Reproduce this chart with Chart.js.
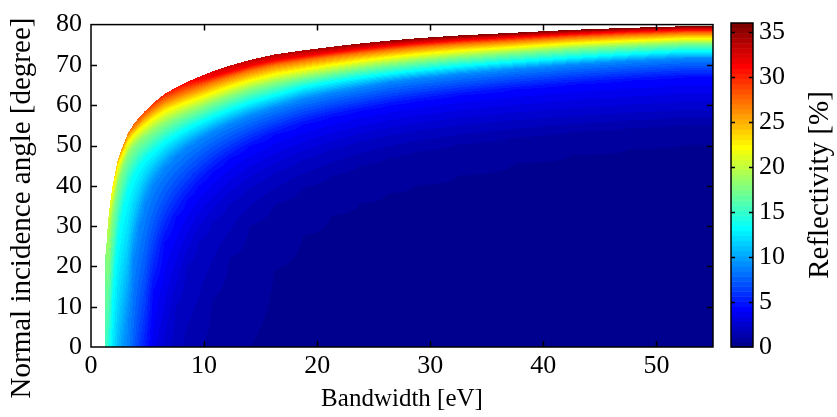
<!DOCTYPE html>
<html>
<head>
<meta charset="utf-8">
<script src="https://cdn.jsdelivr.net/npm/chart.js@4.4.1/dist/chart.umd.min.js"></script>
<style>
  html, body { margin: 0; padding: 0; background: #fff; }
  #wrap { position: relative; width: 837px; height: 417px; }
  #wrap canvas { position: absolute; left: 0; top: 0; }
</style>
</head>
<body>
<div id="wrap">
  <canvas id="mapChart" width="837" height="417"></canvas>
  <canvas id="barChart" width="837" height="417"></canvas>
</div>
<script>
// bandwidth strip edges [eV]; strip i runs from bandwidth[i] to bandwidth[i + 1]
const bandwidth = [1.2, 1.4, 1.6, 1.8, 2.0, 2.25, 2.5, 2.75, 3.0, 3.5, 4.0, 4.5, 5, 6, 7, 8, 9, 10, 11.5, 13, 15, 17.5, 20, 22.5, 25, 27.5, 30, 35, 40, 45, 50, 55];

// angle where the white (no solution) region starts, per strip [degree]
const edgeAngle = [23, 31, 36, 40, 43, 46.5, 48.5, 50.3, 53.0, 55.2, 57.0, 58.5, 60.5, 62.8, 64.4, 65.8, 67.0, 68.4, 69.8, 71.2, 72.6, 73.6, 74.5, 75.3, 76.0, 76.6, 77.3, 78.0, 78.7, 79.2, 79.6];

// reflectivity at that edge and at 0 degree, per strip [%]
const edgeRefl = [17.5, 20, 21.5, 23, 24, 25, 25.8, 26.4, 27, 27.8, 28.5, 29, 29.6, 30.3, 30.9, 31.5, 32.0, 32.5, 33.0, 33.4, 33.8, 34.2, 34.6, 34.9, 35.2, 35.4, 35.6, 35.8, 35.9, 36, 36];
const baseRefl = [15.5, 14.5, 13.5, 12.6, 11.7, 10.8, 10.1, 9.4, 8.9, 7.6, 6.3, 5.2, 3.7, 2.6, 1.95, 1.5, 1.2, 0.95, 0.73, 0.56, 0.42, 0.33, 0.26, 0.21, 0.17, 0.14, 0.11, 0.085, 0.07, 0.055, 0.045];

// reflectivity levels [%] and the angle where each strip reaches them (null = not reached)
const levels = [0.56, 1.125, 2.25, 4.5, 9, 13.5, 18, 22.5, 27, 31.5];
const _ = null;
const angleAt0_56 = [_, _, _, _, _, _, _, _, _, _, _, _, _, _, _, _, _, _, _, _, 19, 27.5, 32.5, 35.5, 38, 40, 42.5, 45.5, 47.5, 49, 50];
const angleAt1_1 = [_, _, _, _, _, _, _, _, _, _, _, _, _, _, _, _, _, 12, 22, 30, 35.5, 39.5, 42.5, 45, 47, 48.5, 50.3, 52, 53.3, 54.3, 55.0];
const angleAt2_25 = [_, _, _, _, _, _, _, _, _, _, _, _, _, _, 10, 20, 26, 31, 35.5, 39.5, 43.2, 46.5, 49, 51, 52.5, 53.7, 55, 56.3, 57.3, 58.1, 58.8];
const angleAt4_5 = [_, _, _, _, _, _, _, _, _, _, _, _, 14, 26, 32, 36.5, 40, 43.5, 46.8, 49.8, 52.7, 55.2, 57.1, 58.6, 59.9, 61.0, 62.4, 63.9, 65.1, 66.1, 66.9];
const angleAt9 = [_, _, _, _, _, _, _, _, 6, 22, 30, 35.5, 40.5, 44.5, 47.3, 49.5, 51.3, 53.3, 55.3, 57.3, 59.4, 61.5, 63.0, 64.3, 65.6, 66.5, 67.6, 68.9, 70.0, 70.9, 71.6];
const angleAt13_5 = [_, _, _, 12, 20, 27, 31, 35, 39, 42.5, 45, 46.7, 48.7, 51, 52.8, 54.4, 55.7, 57.3, 59.0, 60.8, 62.6, 64.6, 65.9, 67.0, 67.9, 68.7, 69.8, 70.9, 71.9, 72.8, 73.5];
const angleAt18 = [_, 20, 27, 32.5, 36.5, 40.5, 43, 45, 47.6, 49.6, 51.0, 52.1, 53.6, 55.4, 56.8, 58.0, 59.1, 60.6, 62.2, 63.9, 65.5, 66.9, 68.1, 69.2, 70.1, 70.9, 71.9, 73.0, 74.0, 74.7, 75.3];
const angleAt22_5 = [_, _, _, 39.5, 42.0, 45.0, 46.7, 48.3, 50.8, 52.6, 54.0, 55.2, 56.8, 58.6, 59.8, 60.9, 61.9, 63.2, 64.7, 66.2, 67.8, 69.0, 70.1, 71.1, 71.95, 72.7, 73.6, 74.5, 75.4, 76.05, 76.6];
const angleAt27 = [_, _, _, _, _, _, _, _, _, 54.7, 56.1, 57.4, 59.1, 61.0, 62.2, 63.3, 64.3, 65.6, 66.95, 68.4, 69.9, 71.0, 72.0, 72.85, 73.6, 74.3, 75.1, 75.9, 76.75, 77.35, 77.85];
const angleAt31_5 = [_, _, _, _, _, _, _, _, _, _, _, _, _, _, _, _, 66.4, 67.2, 68.4, 69.8, 71.2, 72.2, 73.15, 74.0, 74.75, 75.4, 76.15, 76.95, 77.7, 78.3, 78.75];
const levelAngles = [angleAt0_56, angleAt1_1, angleAt2_25, angleAt4_5, angleAt9, angleAt13_5, angleAt18, angleAt22_5, angleAt27, angleAt31_5];

const xTicks = [0, 10, 20, 30, 40, 50];
const yTicks = [0, 10, 20, 30, 40, 50, 60, 70, 80];
const cbTicks = [0, 5, 10, 15, 20, 25, 30, 35];
const reflMax = 36;
const nColors = 64;

const FONT = 'Liberation Serif';

// matlab jet(64): colour k (0 based) sits at t = (k + 1) / 64
const jetRGB = (k) => {
  const t = (k + 1) / nColors;
  const c = (d) => Math.round(255 * Math.min(Math.max(1.5 - Math.abs(4 * t - d), 0), 1));
  return [c(3), c(2), c(1)];
};
const colorIndex = (r) => Math.min(nColors - 1, Math.max(0, Math.floor(r / reflMax * nColors)));

// reflectivity profile of one strip, sorted (angle, value) pairs
const profiles = edgeAngle.map((e, i) => {
  const p = [[0, baseRefl[i]]];
  levels.forEach((lv, k) => {
    if (levelAngles[k][i] !== null) p.push([levelAngles[k][i], lv]);
  });
  p.push([e, edgeRefl[i]]);
  return p;
});
const reflAt = (p, ang) => {
  if (ang <= p[0][0]) return p[0][1];
  for (let j = 1; j < p.length; j++) {
    if (ang <= p[j][0]) {
      const f = (ang - p[j - 1][0]) / (p[j][0] - p[j - 1][0]);
      return p[j - 1][1] + f * (p[j][1] - p[j - 1][1]);
    }
  }
  return p[p.length - 1][1];
};
const centers = edgeAngle.map((e, i) => (bandwidth[i] + bandwidth[i + 1]) / 2);

// inward ticks + box, matlab style
const drawFrame = (chart, xScale, xs, yScale, ys, len) => {
  const { ctx, chartArea: a } = chart;
  ctx.save();
  ctx.strokeStyle = '#000';
  ctx.lineWidth = 1.5;
  ctx.beginPath();
  if (xScale) {
    xs.forEach(v => {
      const px = Math.round(xScale.getPixelForValue(v)) + 0.5;
      if (px <= a.left + 1 || px >= a.right - 1) return;
      ctx.moveTo(px, a.bottom); ctx.lineTo(px, a.bottom - len);
      ctx.moveTo(px, a.top); ctx.lineTo(px, a.top + len);
    });
  }
  ys.forEach(v => {
    const py = Math.round(yScale.getPixelForValue(v)) + 0.5;
    if (py <= a.top + 1 || py >= a.bottom - 1) return;
    ctx.moveTo(a.left, py); ctx.lineTo(a.left + len, py);
    ctx.moveTo(a.right, py); ctx.lineTo(a.right - len, py);
  });
  ctx.stroke();
  ctx.strokeRect(a.left, a.top, a.right - a.left, a.bottom - a.top);
  ctx.restore();
};

const heatmapPlugin = {
  id: 'heatmap',
  beforeDatasetsDraw(chart) {
    const { ctx, chartArea: a, scales: { x, y } } = chart;
    const left = Math.round(a.left), top = Math.round(a.top);
    const w = Math.round(a.right) - left, h = Math.round(a.bottom) - top;
    const off = document.createElement('canvas');
    off.width = w; off.height = h;
    const octx = off.getContext('2d');
    const img = octx.createImageData(w, h);
    const last = centers.length - 1;
    for (let px = 0; px < w; px++) {
      const b = x.getValueForPixel(left + px + 0.5);
      if (b < bandwidth[0]) continue;
      let i = 0, f = 0;
      if (b >= centers[last]) { i = last; f = 0; }
      else if (b > centers[0]) {
        while (centers[i + 1] <= b) i++;
        f = (b - centers[i]) / (centers[i + 1] - centers[i]);
      }
      const j = Math.min(i + 1, last);
      const edge = edgeAngle[i] + f * (edgeAngle[j] - edgeAngle[i]);
      for (let py = 0; py < h; py++) {
        const ang = y.getValueForPixel(top + py + 0.5);
        if (ang > edge) continue;
        const s = ang / edge;
        const r = (1 - f) * reflAt(profiles[i], s * edgeAngle[i]) + f * reflAt(profiles[j], s * edgeAngle[j]);
        const [cr, cg, cb] = jetRGB(colorIndex(r));
        const o = (py * w + px) * 4;
        img.data[o] = cr; img.data[o + 1] = cg; img.data[o + 2] = cb; img.data[o + 3] = 255;
      }
    }
    octx.putImageData(img, 0, 0);
    ctx.drawImage(off, left, top);
  },
  afterDraw(chart) {
    const { ctx, scales: { x, y } } = chart;
    drawFrame(chart, x, xTicks, y, yTicks, 6);
    ctx.save();
    ctx.translate(22, 208);
    ctx.rotate(-Math.PI / 2);
    ctx.font = `29px "${FONT}"`;
    ctx.fillStyle = '#000';
    ctx.textAlign = 'center';
    ctx.textBaseline = 'middle';
    ctx.fillText('Normal incidence angle [degree]', 0, 0);
    ctx.restore();
  }
};

const colorbarPlugin = {
  id: 'colorbar',
  beforeDatasetsDraw(chart) {
    const { ctx, chartArea: a, scales: { y } } = chart;
    for (let k = 0; k < nColors; k++) {
      const y0 = y.getPixelForValue(k * reflMax / nColors);
      const y1 = y.getPixelForValue((k + 1) * reflMax / nColors);
      const [cr, cg, cb] = jetRGB(k);
      ctx.fillStyle = `rgb(${cr},${cg},${cb})`;
      ctx.fillRect(a.left, y1, a.right - a.left, y0 - y1 + 0.5);
    }
  },
  afterDraw(chart) {
    const { ctx, chartArea: a, scales: { y } } = chart;
    drawFrame(chart, null, null, y, cbTicks, 4);
    ctx.save();
    ctx.translate(820, (a.top + a.bottom) / 2);
    ctx.rotate(-Math.PI / 2);
    ctx.font = `29px "${FONT}"`;
    ctx.fillStyle = '#000';
    ctx.textAlign = 'center';
    ctx.textBaseline = 'middle';
    ctx.fillText('Reflectivity [%]', 0, 0);
    ctx.restore();
  }
};

const tickFont = { family: FONT, size: 26 };

new Chart(document.getElementById('mapChart'), {
  type: 'scatter',
  data: { datasets: [] },
  options: {
    responsive: false,
    animation: false,
    layout: { padding: { top: 23, right: 124, left: 0, bottom: 0 } },
    plugins: { legend: { display: false }, tooltip: { enabled: false } },
    scales: {
      x: {
        type: 'linear', min: 0, max: 55,
        afterBuildTicks: (s) => { s.ticks = xTicks.map(v => ({ value: v })); },
        afterFit: (s) => { s.height = 70; },
        grid: { display: false, drawTicks: false },
        border: { display: false },
        ticks: { font: tickFont, color: '#000', padding: 4, maxRotation: 0 },
        title: { display: true, text: 'Bandwidth [eV]', font: { family: FONT, size: 25 }, color: '#000', padding: { bottom: 3 } }
      },
      y: {
        type: 'linear', min: 0, max: 80,
        afterBuildTicks: (s) => { s.ticks = yTicks.map(v => ({ value: v })); },
        afterFit: (s) => { s.width = 91; },
        grid: { display: false, drawTicks: false },
        border: { display: false },
        ticks: { font: tickFont, color: '#000', padding: 9 }
      }
    }
  },
  plugins: [heatmapPlugin]
});

new Chart(document.getElementById('barChart'), {
  type: 'scatter',
  data: { datasets: [] },
  options: {
    responsive: false,
    animation: false,
    layout: { padding: { top: 23, right: 0, left: 731, bottom: 70 } },
    plugins: { legend: { display: false }, tooltip: { enabled: false } },
    scales: {
      x: { type: 'linear', min: 0, max: 1, display: false },
      y: {
        type: 'linear', position: 'right', min: 0, max: reflMax,
        afterBuildTicks: (s) => { s.ticks = cbTicks.map(v => ({ value: v })); },
        afterFit: (s) => { s.width = 84; },
        grid: { display: false, drawTicks: false },
        border: { display: false },
        ticks: { font: tickFont, color: '#000', padding: 6 }
      }
    }
  },
  plugins: [colorbarPlugin]
});
</script>
</body>
</html>
